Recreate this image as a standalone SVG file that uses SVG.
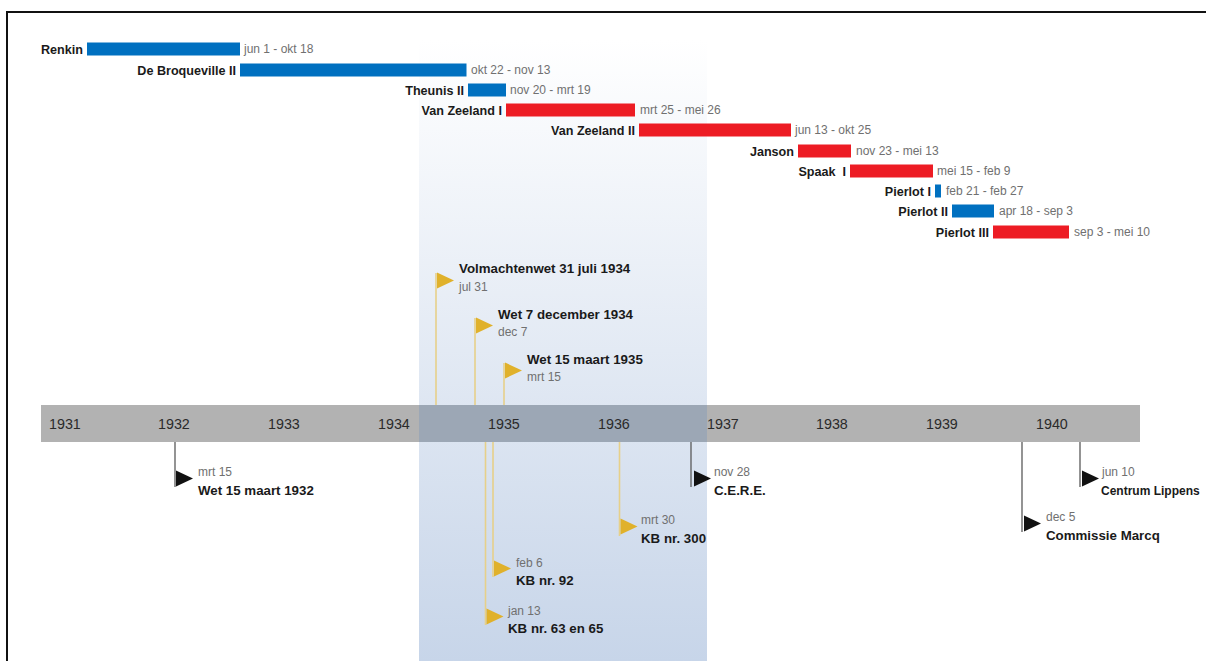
<svg xmlns="http://www.w3.org/2000/svg" width="1206" height="661" viewBox="0 0 1206 661">
<defs>
<linearGradient id="shade" x1="0" y1="0" x2="0" y2="1">
<stop offset="0" stop-color="#ffffff"/>
<stop offset="1" stop-color="#c7d5e9"/>
</linearGradient>
<path id="flagShape" d="M0,0 L0,16 L17,8 Z"/>
</defs>
<style>
.lbl{font-family:"Liberation Sans",Arial,sans-serif;font-weight:bold;font-size:12.6px;fill:#1a1a1a;text-anchor:end}
.dt{font-family:"Liberation Sans",Arial,sans-serif;font-size:12px;fill:#707070}
.ttl{font-family:"Liberation Sans",Arial,sans-serif;font-weight:bold;font-size:13.3px;fill:#1a1a1a}
.edt{font-family:"Liberation Sans",Arial,sans-serif;font-size:12px;fill:#707070}
.yr{font-family:"Liberation Sans",Arial,sans-serif;font-size:14.3px;fill:#2a2a2a}
.blue{fill:#0070c0}
.red{fill:#ed1c24}
.gline{stroke:#e6d08a;stroke-width:1.6;fill:none}
.kline{stroke:#5a5a5a;stroke-width:1.3;fill:none}
.gflag{fill:#e0b12b}
.kflag{fill:#111111}
</style>
<rect x="0" y="0" width="1206" height="661" fill="#ffffff"/>
<!-- frame -->
<line x1="6" y1="12" x2="1206" y2="12" stroke="#111" stroke-width="2"/>
<line x1="7" y1="12" x2="7" y2="661" stroke="#111" stroke-width="2"/>
<!-- shaded period -->
<rect x="419" y="40" width="288" height="621" fill="url(#shade)"/>
<!-- axis -->
<g id="axis">
<rect x="41" y="405" width="1099" height="37" fill="#b2b2b2"/>
<rect x="419" y="405" width="288" height="37" fill="#9ca7b5"/>
<text class="yr" x="49" y="429">1931</text>
<text class="yr" x="158" y="429">1932</text>
<text class="yr" x="268" y="429">1933</text>
<text class="yr" x="378" y="429">1934</text>
<text class="yr" x="488" y="429">1935</text>
<text class="yr" x="598" y="429">1936</text>
<text class="yr" x="707" y="429">1937</text>
<text class="yr" x="816" y="429">1938</text>
<text class="yr" x="926" y="429">1939</text>
<text class="yr" x="1036" y="429">1940</text>
</g>
<!-- connectors -->
<g id="connectors">
<line class="gline" x1="436" y1="273" x2="436" y2="405"/>
<line class="gline" x1="475" y1="318" x2="475" y2="405"/>
<line class="gline" x1="504" y1="363" x2="504" y2="405"/>
<line class="kline" x1="175" y1="442" x2="175" y2="487"/>
<line class="kline" x1="691" y1="442" x2="691" y2="487"/>
<line class="kline" x1="1022" y1="442" x2="1022" y2="532"/>
<line class="kline" x1="1080" y1="442" x2="1080" y2="487"/>
<line class="gline" x1="619.5" y1="442" x2="619.5" y2="536"/>
<line class="gline" x1="493" y1="442" x2="493" y2="577"/>
<line class="gline" x1="485.5" y1="442" x2="485.5" y2="625"/>
</g>
<!-- cabinets -->
<g id="renkin"><rect class="blue" x="87" y="42.5" width="153" height="13"/><text class="lbl" x="83" y="53.5">Renkin</text><text class="dt" x="244" y="53.3">jun 1 - okt 18</text></g>
<g id="debroqueville2"><rect class="blue" x="240" y="63.5" width="226.5" height="13"/><text class="lbl" x="236" y="74.5">De Broqueville II</text><text class="dt" x="471" y="74.3">okt 22 - nov 13</text></g>
<g id="theunis2"><rect class="blue" x="468" y="83.5" width="38" height="13"/><text class="lbl" x="464" y="94.5">Theunis II</text><text class="dt" x="510" y="94.3">nov 20 - mrt 19</text></g>
<g id="vanzeeland1"><rect class="red" x="506" y="103.5" width="129" height="13"/><text class="lbl" x="502" y="114.5">Van Zeeland I</text><text class="dt" x="640" y="114.3">mrt 25 - mei 26</text></g>
<g id="vanzeeland2"><rect class="red" x="639" y="123.5" width="152" height="13"/><text class="lbl" x="635" y="134.5">Van Zeeland II</text><text class="dt" x="795" y="134.3">jun 13 - okt 25</text></g>
<g id="janson"><rect class="red" x="798" y="144.5" width="53" height="13"/><text class="lbl" x="794" y="155.5">Janson</text><text class="dt" x="856" y="155.3">nov 23 - mei 13</text></g>
<g id="spaak1"><rect class="red" x="850" y="164.5" width="83" height="13"/><text class="lbl" x="846" y="175.5" xml:space="preserve">Spaak  I</text><text class="dt" x="937" y="175.3">mei 15 - feb 9</text></g>
<g id="pierlot1"><rect class="blue" x="935" y="184.5" width="6" height="13"/><text class="lbl" x="931" y="195.5">Pierlot I</text><text class="dt" x="946" y="195.3">feb 21 - feb 27</text></g>
<g id="pierlot2"><rect class="blue" x="952" y="204.5" width="42" height="13"/><text class="lbl" x="948" y="215.5">Pierlot II</text><text class="dt" x="999" y="215.3">apr 18 - sep 3</text></g>
<g id="pierlot3"><rect class="red" x="993" y="225.5" width="76" height="13"/><text class="lbl" x="989" y="236.5">Pierlot III</text><text class="dt" x="1074" y="236.3">sep 3 - mei 10</text></g>
<!-- events above axis -->
<g id="volmachtenwet"><use href="#flagShape" class="gflag" x="437" y="272.5"/><text class="ttl" x="459" y="272.5">Volmachtenwet 31 juli 1934</text><text class="edt" x="459" y="291">jul 31</text></g>
<g id="wet7dec1934"><use href="#flagShape" class="gflag" x="476" y="317.5"/><text class="ttl" x="498" y="319">Wet 7 december 1934</text><text class="edt" x="498" y="336">dec 7</text></g>
<g id="wet15mrt1935"><use href="#flagShape" class="gflag" x="505" y="362.5"/><text class="ttl" x="527" y="364">Wet 15 maart 1935</text><text class="edt" x="527" y="381">mrt 15</text></g>
<!-- events below axis -->
<g id="wet15mrt1932"><use href="#flagShape" class="kflag" x="176" y="470.5"/><text class="edt" x="198" y="476">mrt 15</text><text class="ttl" x="198" y="495">Wet 15 maart 1932</text></g>
<g id="cere"><use href="#flagShape" class="kflag" x="694" y="470.5"/><text class="edt" x="714" y="476">nov 28</text><text class="ttl" x="714" y="495">C.E.R.E.</text></g>
<g id="lippens"><use href="#flagShape" class="kflag" x="1082" y="470.5"/><text class="edt" x="1102" y="476">jun 10</text><text class="ttl" x="1101" y="495" style="font-size:12px">Centrum Lippens</text></g>
<g id="marcq"><use href="#flagShape" class="kflag" x="1024" y="515.5"/><text class="edt" x="1046" y="521">dec 5</text><text class="ttl" x="1046" y="540">Commissie Marcq</text></g>
<g id="kb300"><use href="#flagShape" class="gflag" x="620.5" y="518.5"/><text class="edt" x="641" y="523.5">mrt 30</text><text class="ttl" x="641" y="543">KB nr. 300</text></g>
<g id="kb92"><use href="#flagShape" class="gflag" x="494" y="560.5"/><text class="edt" x="516" y="566.5">feb 6</text><text class="ttl" x="516" y="585">KB nr. 92</text></g>
<g id="kb63"><use href="#flagShape" class="gflag" x="486.5" y="608.5"/><text class="edt" x="508" y="615">jan 13</text><text class="ttl" x="508" y="633">KB nr. 63 en 65</text></g>
</svg>
